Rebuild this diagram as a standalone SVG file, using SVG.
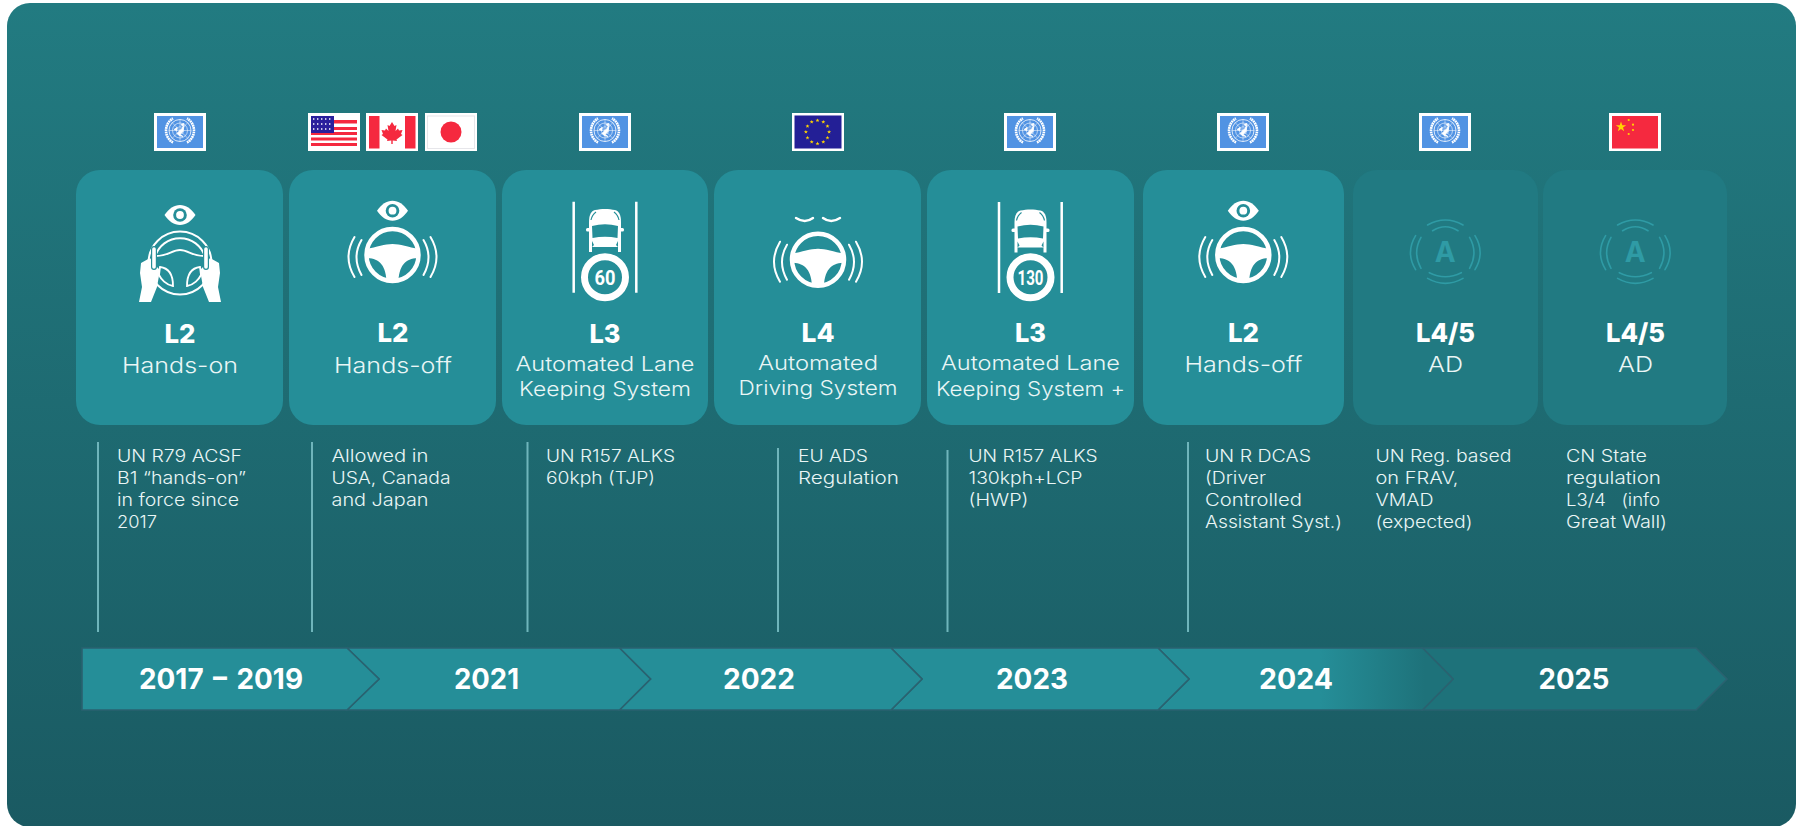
<svg xmlns="http://www.w3.org/2000/svg" xmlns:xlink="http://www.w3.org/1999/xlink" width="1801" height="826" viewBox="0 0 1801 826">
<style>
text{font-family:"Inter","Open Sans","Liberation Sans",sans-serif;fill:#fff}
.lv{font-size:26px;font-weight:800;text-anchor:middle}
.sb{font-size:22px;font-weight:300;text-anchor:middle;fill:#eaf6f6}
.sb2{font-size:20px;font-weight:300;text-anchor:middle;fill:#eaf6f6}
.ds{font-size:17px;font-weight:300;fill:#eaf6f6}
.yr{font-size:29px;font-weight:700;text-anchor:middle}
.spd{font-family:"Roboto","Liberation Sans",sans-serif;font-size:20px;font-weight:700;text-anchor:middle}
.aa{font-size:28px;font-weight:700;text-anchor:middle;fill:#2f9ba5}
.c1{fill:#258e98}
.c2{fill:#217a82}
.ln{stroke:#6fb5bb;stroke-width:2;fill:none}
.seg{stroke:#2a6270;stroke-width:1.6;stroke-linejoin:miter}
.fw{fill:#fff}
.wv{fill:none;stroke:#fff;stroke-width:2;stroke-linecap:round}
.arc{fill:none;stroke:#2f9ba5;stroke-width:1.6;stroke-linecap:round}
.tl{fill:#258e98}
</style>
<defs>
<linearGradient id="bg" x1="0" y1="0" x2="0" y2="1"><stop offset="0" stop-color="#227b81"/><stop offset="1" stop-color="#1a5a62"/></linearGradient>
<linearGradient id="fade" gradientUnits="userSpaceOnUse" x1="1320" y1="0" x2="1425" y2="0"><stop offset="0" stop-color="#258e98"/><stop offset="1" stop-color="#1e727a"/></linearGradient>
<polygon id="st" points="0,-2 .55,-.65 2,-.65 .85,.25 1.25,1.6 0,.8 -1.25,1.6 -.85,.25 -2,-.65 -.55,-.65" fill="#ffd400"/>
<g id="eye"><path class="fw" d="M-15.5,0C-11,-6.5 -6,-10 0,-10C6,-10 11,-6.5 15.5,0C11,6.5 6,10 0,10C-6,10 -11,6.5 -15.5,0Z"/><circle r="6.8" class="c1"/><circle r="3.9" class="fw"/></g>
<g id="wheel">
<circle r="26" fill="none" stroke="#fff" stroke-width="4.5"/>
<path class="fw" d="M-27,-6C-15,-8 -8,-11 0,-11C8,-11 15,-8 27,-6L27,3C15,3 7,8 6,26L-6,26C-7,8 -15,3 -27,3Z"/>
<path class="wv" d="M-38,-18Q-50,2 -38,22M-31,-15Q-41,2 -31,20M38,-18Q50,2 38,22M31,-15Q41,2 31,20"/>
</g>
<g id="car">
<path class="fw" d="M-16,22L-16,-8C-16,-15 -14,-19 -10,-20C-4,-21.5 4,-21.5 10,-20C14,-19 16,-15 16,-8L16,22Z"/>
<rect x="-19" y="-2" width="38" height="3.5" rx="1.5" class="fw"/>
<path class="c1" d="M-13,-4Q0,-7.5 13,-4L12.5,8Q0,5.5 -12.5,8Z"/>
<path class="c1" d="M-13,17L13,17L13,23L-13,23Z"/>
<path class="c1" d="M-13,11L-11,15L-13,17ZM13,11L11,15L13,17Z"/>
<path d="M-14,-10Q-13,-15 -9,-18M14,-10Q13,-15 9,-18" fill="none" stroke="#258e98" stroke-width="1.2"/>
</g>
<g id="un">
<rect x="0" y="0" width="52" height="38" fill="#fff"/><rect x="3" y="3" width="46" height="32" fill="#5193e3"/>
<g transform="translate(26,17.500)" fill="none" stroke="#fff">
<circle r="11" stroke-width=".8"/><circle r="7.500" stroke-width=".6"/><circle r="3.800" stroke-width=".5"/>
<path d="M-11,0H11M0,-11V11M-7.800,-7.800L7.800,7.800M7.800,-7.800L-7.800,7.800" stroke-width=".5"/>
<path d="M-3,3L2,-2L4,-5L3,1L0,4L3,6L-1,5ZM-6,-1L-3,-3L-3,0ZM1,-6L4,-7L3,-4Z" fill="#fff" stroke-width=".8"/>
<path d="M-7,12A13.800,13.800 0 0 1 -7,-12M7,12A13.800,13.800 0 0 0 7,-12" stroke-width="2.600" stroke-dasharray="1.800 .5"/>
</g>
</g>
<g id="aicon">
<text class="aa" x="0" y="10">A</text>
<path class="arc" d="M-17.7,-26.7Q0,-36.7 17.7,-26.7M-12.7,-21Q0,-29 12.7,-21M-16,21Q0,29 16,21M-17.7,26.7Q0,36.7 17.7,26.7M-29.7,-16Q-40,1 -29.7,18M-24.3,-14.3Q-33,1 -24.3,16.7M29.7,-16Q40,1 29.7,18M24.3,-14.3Q33,1 24.3,16.7"/>
</g>
</defs>
<rect width="1801" height="826" fill="#fff"/>
<rect x="7" y="3" width="1789" height="824" rx="23" fill="url(#bg)"/>

<g id="connectors">
<path class="ln" d="M98,442V632M312,442V632M527.500,442V632M778,448V632M947.500,450V632M1188,442V632"/>
</g>

<g id="flags">
<use id="flag-un-1" href="#un" x="154" y="113"/>
<g id="flag-us">
<rect x="308" y="113" width="52" height="38" fill="#fff"/>
<path fill="#f5293f" d="M311,120h46v3.500h-46zM311,132h46v3h-46zM311,137.500h46v3h-46zM311,143h46v3h-46zM311,127h46v3h-46z"/>
<rect x="311" y="116" width="23" height="17" fill="#2a1f9c"/>
<path d="M313,119h19M313,124h19M313,129h19" stroke="#fff" stroke-width="1.400" stroke-dasharray="1.400 2.600"/>
</g>
<g id="flag-ca">
<rect x="366" y="113" width="52" height="38" fill="#fff"/>
<rect x="369" y="116" width="10.500" height="32.500" fill="#f5293f"/><rect x="405" y="116" width="10.500" height="32.500" fill="#f5293f"/>
<path fill="#f5293f" d="M392,122L394.500,126L396.500,125L395.500,131L398,128.500L399,130.500L402.500,130L401,134L402.500,135L396.500,139.500L397,141L392.700,140.500V144H391.300V140.500L387,141L387.500,139.500L381.500,135L383,134L381.500,130L385,130.500L386,128.500L388.500,131L387.500,125L389.500,126Z"/>
</g>
<g id="flag-jp">
<rect x="425" y="113" width="52" height="38" fill="#fff"/>
<rect x="427.500" y="116" width="47" height="32.500" fill="none" stroke="#e6e6ea"/>
<circle cx="451" cy="132" r="10.500" fill="#f5293f"/>
</g>
<use id="flag-un-3" href="#un" x="579" y="113"/>
<g id="flag-eu">
<rect x="792" y="113" width="52" height="38" fill="#fff"/><rect x="794.500" y="115.500" width="47" height="33" fill="#231f96"/>
<use href="#st" x="817.500" y="120.400"/><use href="#st" x="823.300" y="122"/><use href="#st" x="827.500" y="126.200"/><use href="#st" x="829.100" y="132"/><use href="#st" x="827.500" y="137.800"/><use href="#st" x="823.300" y="142"/><use href="#st" x="817.500" y="143.600"/><use href="#st" x="811.700" y="142"/><use href="#st" x="807.500" y="137.800"/><use href="#st" x="805.900" y="132"/><use href="#st" x="807.500" y="126.200"/><use href="#st" x="811.700" y="122"/>
</g>
<use id="flag-un-5" href="#un" x="1004" y="113"/>
<use id="flag-un-6" href="#un" x="1217" y="113"/>
<use id="flag-un-7" href="#un" x="1419" y="113"/>
<g id="flag-cn">
<rect x="1609" y="113" width="52" height="38" fill="#fff"/><rect x="1612" y="116" width="46" height="32.500" fill="#f5293f"/>
<polygon fill="#ffd400" points="1621,121.500 1622.300,125.200 1626.200,125.200 1623,127.500 1624.200,131.200 1621,129 1617.800,131.200 1619,127.500 1615.800,125.200 1619.700,125.200"/>
<circle cx="1628.700" cy="120" r="1.100" fill="#ffd400"/><circle cx="1633" cy="124.700" r="1.100" fill="#ffd400"/><circle cx="1633" cy="130" r="1.100" fill="#ffd400"/><circle cx="1628.700" cy="134" r="1.100" fill="#ffd400"/>
</g>
</g>

<g id="node-1">
<rect class="c1" x="76" y="170" width="207" height="255" rx="24"/>
<use href="#eye" x="180" y="215"/>
<g transform="translate(180,263)">
<circle r="31.500" fill="none" stroke="#fff" stroke-width="2"/>
<path d="M-25,-6A26,26 0 0 1 25,-6" fill="none" stroke="#fff" stroke-width="2"/>
<path d="M-24,-7C-12,-7 -8,-13 0,-13C8,-13 12,-7 24,-7" fill="none" stroke="#fff" stroke-width="2"/>
<path d="M-20,4C-11,5 -7,12 -7,23C-14,22 -19,16 -21,12ZM20,4C11,5 7,12 7,23C14,22 19,16 21,12Z" fill="none" stroke="#fff" stroke-width="1.800"/>
<path class="fw" d="M-39,0L-30,-5L-25,2L-20,7L-23,24L-29,39L-41,39L-38,24L-40,10Z"/>
<path class="fw" d="M39,0L30,-5L25,2L20,7L23,24L29,39L41,39L38,24L40,10Z"/>
<path d="M-26,-14V4M26,-14V4" stroke="#258e98" stroke-width="6" stroke-linecap="round"/>
<path d="M-26,-14V4M26,-14V4" stroke="#fff" stroke-width="3.600" stroke-linecap="round"/>
</g>
<text class="lv" x="180" y="343" textLength="31" lengthAdjust="spacingAndGlyphs">L2</text>
<text class="sb" x="180" y="373" textLength="116" lengthAdjust="spacingAndGlyphs">Hands-on</text>
</g>

<g id="node-2">
<rect class="c1" x="289" y="170" width="207" height="255" rx="24"/>
<use href="#eye" x="392.500" y="210.700"/>
<use href="#wheel" x="392.500" y="255"/>
<text class="lv" x="393" y="342" textLength="31" lengthAdjust="spacingAndGlyphs">L2</text>
<text class="sb" x="393" y="373" textLength="118" lengthAdjust="spacingAndGlyphs">Hands-off</text>
</g>

<g id="node-3">
<rect class="c1" x="502" y="170" width="206" height="255" rx="24"/>
<path d="M573.700,201.700V292.700M636.300,201.700V292.700" stroke="#fff" stroke-width="2.500"/>
<use href="#car" x="605" y="230"/>
<circle cx="605" cy="277.300" r="20.500" fill="none" stroke="#fff" stroke-width="7"/>
<text class="spd" x="605" y="284.500" textLength="21" lengthAdjust="spacingAndGlyphs">60</text>
<text class="lv" x="605" y="343" textLength="31" lengthAdjust="spacingAndGlyphs">L3</text>
<text class="sb2" x="605" y="371" textLength="179" lengthAdjust="spacingAndGlyphs">Automated Lane</text>
<text class="sb2" x="605" y="396" textLength="172" lengthAdjust="spacingAndGlyphs">Keeping System</text>
</g>

<g id="node-4">
<rect class="c1" x="714" y="170" width="207" height="255" rx="24"/>
<path d="M796,218Q805,224 813,218M823,218Q831,224 840,218" fill="none" stroke="#fff" stroke-width="2.400" stroke-linecap="round"/>
<use href="#wheel" x="818" y="259.700"/>
<text class="lv" x="818" y="342" textLength="33" lengthAdjust="spacingAndGlyphs">L4</text>
<text class="sb2" x="818" y="370" textLength="120" lengthAdjust="spacingAndGlyphs">Automated</text>
<text class="sb2" x="818" y="395" textLength="159" lengthAdjust="spacingAndGlyphs">Driving System</text>
</g>

<g id="node-5">
<rect class="c1" x="927" y="170" width="207" height="255" rx="24"/>
<path d="M999,202V293M1061.700,202V293" stroke="#fff" stroke-width="2.500"/>
<use href="#car" x="1030.500" y="230.500"/>
<circle cx="1030.500" cy="277.300" r="20.500" fill="none" stroke="#fff" stroke-width="7"/>
<text class="spd" x="1030.500" y="284.500" textLength="26" lengthAdjust="spacingAndGlyphs">130</text>
<text class="lv" x="1030.500" y="342" textLength="31" lengthAdjust="spacingAndGlyphs">L3</text>
<text class="sb2" x="1030.500" y="370" textLength="179" lengthAdjust="spacingAndGlyphs">Automated Lane</text>
<text class="sb2" x="1030.500" y="396" textLength="189" lengthAdjust="spacingAndGlyphs">Keeping System +</text>
</g>

<g id="node-6">
<rect class="c1" x="1143" y="170" width="201" height="255" rx="24"/>
<use href="#eye" x="1243.300" y="210.700"/>
<use href="#wheel" x="1243.300" y="255"/>
<text class="lv" x="1243.500" y="342" textLength="31" lengthAdjust="spacingAndGlyphs">L2</text>
<text class="sb" x="1243.500" y="372" textLength="118" lengthAdjust="spacingAndGlyphs">Hands-off</text>
</g>

<g id="node-7">
<rect class="c2" x="1353" y="170" width="185" height="255" rx="24"/>
<use href="#aicon" x="1445.300" y="251.700"/>
<text class="lv" x="1445.500" y="342" textLength="59" lengthAdjust="spacingAndGlyphs">L4/5</text>
<text class="sb" x="1445.500" y="372" textLength="35" lengthAdjust="spacingAndGlyphs">AD</text>
</g>

<g id="node-8">
<rect class="c2" x="1543" y="170" width="184" height="255" rx="24"/>
<use href="#aicon" x="1635.300" y="251.700"/>
<text class="lv" x="1635.500" y="342" textLength="59" lengthAdjust="spacingAndGlyphs">L4/5</text>
<text class="sb" x="1635.500" y="372" textLength="35" lengthAdjust="spacingAndGlyphs">AD</text>
</g>

<g id="descriptions">
<g id="desc-1">
<text class="ds" x="117" y="462" textLength="125" lengthAdjust="spacingAndGlyphs">UN R79 ACSF</text>
<text class="ds" x="117" y="484" textLength="129" lengthAdjust="spacingAndGlyphs">B1 “hands-on”</text>
<text class="ds" x="117" y="506" textLength="122" lengthAdjust="spacingAndGlyphs">in force since</text>
<text class="ds" x="117" y="528" textLength="40" lengthAdjust="spacingAndGlyphs">2017</text>
</g>
<g id="desc-2">
<text class="ds" x="331.500" y="462" textLength="97" lengthAdjust="spacingAndGlyphs">Allowed in</text>
<text class="ds" x="331.500" y="484" textLength="119" lengthAdjust="spacingAndGlyphs">USA, Canada</text>
<text class="ds" x="331.500" y="506" textLength="97" lengthAdjust="spacingAndGlyphs">and Japan</text>
</g>
<g id="desc-3">
<text class="ds" x="546" y="462" textLength="129" lengthAdjust="spacingAndGlyphs">UN R157 ALKS</text>
<text class="ds" x="546" y="484" textLength="109" lengthAdjust="spacingAndGlyphs">60kph (TJP)</text>
</g>
<g id="desc-4">
<text class="ds" x="798" y="462" textLength="70" lengthAdjust="spacingAndGlyphs">EU ADS</text>
<text class="ds" x="798" y="484" textLength="101" lengthAdjust="spacingAndGlyphs">Regulation</text>
</g>
<g id="desc-5">
<text class="ds" x="968.500" y="462" textLength="129" lengthAdjust="spacingAndGlyphs">UN R157 ALKS</text>
<text class="ds" x="968.500" y="484" textLength="114" lengthAdjust="spacingAndGlyphs">130kph+LCP</text>
<text class="ds" x="968.500" y="506" textLength="60" lengthAdjust="spacingAndGlyphs">(HWP)</text>
</g>
<g id="desc-6">
<text class="ds" x="1205" y="462" textLength="106" lengthAdjust="spacingAndGlyphs">UN R DCAS</text>
<text class="ds" x="1205" y="484" textLength="61" lengthAdjust="spacingAndGlyphs">(Driver</text>
<text class="ds" x="1205" y="506" textLength="97" lengthAdjust="spacingAndGlyphs">Controlled</text>
<text class="ds" x="1205" y="528" textLength="137" lengthAdjust="spacingAndGlyphs">Assistant Syst.)</text>
</g>
<g id="desc-7">
<text class="ds" x="1375.500" y="462" textLength="136" lengthAdjust="spacingAndGlyphs">UN Reg. based</text>
<text class="ds" x="1375.500" y="484" textLength="83" lengthAdjust="spacingAndGlyphs">on FRAV,</text>
<text class="ds" x="1375.500" y="506" textLength="58" lengthAdjust="spacingAndGlyphs">VMAD</text>
<text class="ds" x="1375.500" y="528" textLength="97" lengthAdjust="spacingAndGlyphs">(expected)</text>
</g>
<g id="desc-8">
<text class="ds" x="1566" y="462" textLength="81" lengthAdjust="spacingAndGlyphs">CN State</text>
<text class="ds" x="1566" y="484" textLength="95" lengthAdjust="spacingAndGlyphs">regulation</text>
<text class="ds" x="1566" y="506" textLength="94" lengthAdjust="spacingAndGlyphs" xml:space="preserve">L3/4   (info</text>
<text class="ds" x="1566" y="528" textLength="101" lengthAdjust="spacingAndGlyphs">Great Wall)</text>
</g>
</g>

<g id="timeline">
<polygon class="seg" fill="#1e727a" points="1422.500,648 1696,648 1727,679 1696,710 1422.500,710 1453,679"/>
<polygon class="seg" fill="url(#fade)" points="1158,648 1422.500,648 1453,679 1422.500,710 1158,710 1189,679"/>
<polygon class="seg tl" points="891,648 1158,648 1189,679 1158,710 891,710 922,679"/>
<polygon class="seg tl" points="619.500,648 891,648 922,679 891,710 619.500,710 650.500,679"/>
<polygon class="seg tl" points="347,648 619.500,648 650.500,679 619.500,710 347,710 379,679"/>
<polygon class="seg tl" points="82,648 347,648 379,679 347,710 82,710"/>
<text class="yr" x="221" y="689" textLength="164" lengthAdjust="spacingAndGlyphs" style="word-spacing:3px">2017 – 2019</text>
<text class="yr" x="486.500" y="689" textLength="65" lengthAdjust="spacingAndGlyphs">2021</text>
<text class="yr" x="759" y="689" textLength="72" lengthAdjust="spacingAndGlyphs">2022</text>
<text class="yr" x="1032" y="689" textLength="72" lengthAdjust="spacingAndGlyphs">2023</text>
<text class="yr" x="1296" y="689" textLength="74" lengthAdjust="spacingAndGlyphs">2024</text>
<text class="yr" x="1574" y="689" textLength="71" lengthAdjust="spacingAndGlyphs">2025</text>
</g>
</svg>
